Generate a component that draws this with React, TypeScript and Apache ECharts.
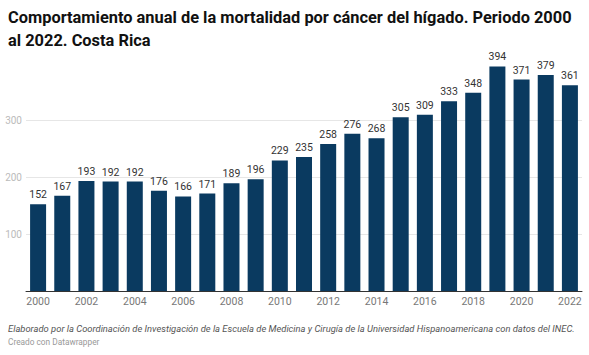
import React, { useEffect, useRef } from "react";
import * as echarts from "echarts";

const years = ["2000","2001","2002","2003","2004","2005","2006","2007","2008","2009","2010","2011","2012","2013","2014","2015","2016","2017","2018","2019","2020","2021","2022"];
const deaths = [152,167,193,192,192,176,166,171,189,196,229,235,258,276,268,305,309,333,348,394,371,379,361];
const titleText = "Comportamiento anual de la mortalidad por cáncer del hígado. Periodo 2000\nal 2022. Costa Rica";
const footerText = "Elaborado por la Coordinación de Investigación de la Escuela de Medicina y Cirugía de la Universidad Hispanoamericana con datos del INEC.";
const creditText = "Creado con Datawrapper";

export default function App() {
  const ref = useRef<HTMLDivElement>(null);
  useEffect(() => {
    if (!ref.current) return;
    const chart = echarts.init(ref.current, null, { renderer: "svg" });
    chart.setOption({
      animation: false,
      backgroundColor: "#ffffff",
      textStyle: { fontFamily: "Roboto" },
      grid: { left: 26, right: 7, top: 63, bottom: 64, containLabel: false },
      graphic: [
        {
          type: "text",
          left: 8,
          top: 6,
          style: {
            text: titleText,
            font: "bold 16.4px Roboto",
            fill: "#111111",
            lineHeight: 23,
          },
        },
        {
          type: "text",
          left: 8,
          top: 324,
          style: {
            text: footerText,
            font: "italic 9.4px Roboto",
            fill: "#555555",
          },
        },
        {
          type: "text",
          left: 8,
          top: 338,
          style: {
            text: creditText,
            font: "8.3px Roboto",
            fill: "#999999",
          },
        },
      ],
      xAxis: {
        type: "category",
        data: years,
        axisTick: { show: false },
        axisLine: { show: true, lineStyle: { color: "#333333", width: 1 } },
        axisLabel: { interval: 1, color: "#777777", fontSize: 10.5, margin: 5, fontFamily: "Roboto" },
      },
      yAxis: {
        type: "value",
        min: 0,
        max: 400,
        interval: 100,
        axisLine: { show: false },
        axisTick: { show: false },
        axisLabel: {
          color: "#bbbbbb",
          fontSize: 10,
          margin: 4,
          showMinLabel: false,
          showMaxLabel: false,
          fontFamily: "Roboto",
        },
        splitLine: { show: true, showMinLine: false, showMaxLine: false, lineStyle: { color: "#e6e6e6", width: 1 } },
      },
      series: [
        {
          type: "bar",
          data: deaths,
          barWidth: 16,
          itemStyle: { color: "#0a3a60" },
          label: {
            show: true,
            position: "top",
            distance: 4,
            color: "#333333",
            fontSize: 10.5,
            fontFamily: "Roboto",
          },
        },
      ],
    });
    return () => chart.dispose();
  }, []);
  return (
    <div
      ref={ref}
      style={{ position: "fixed", left: 0, top: 0, width: 589, height: 355 }}
    />
  );
}
